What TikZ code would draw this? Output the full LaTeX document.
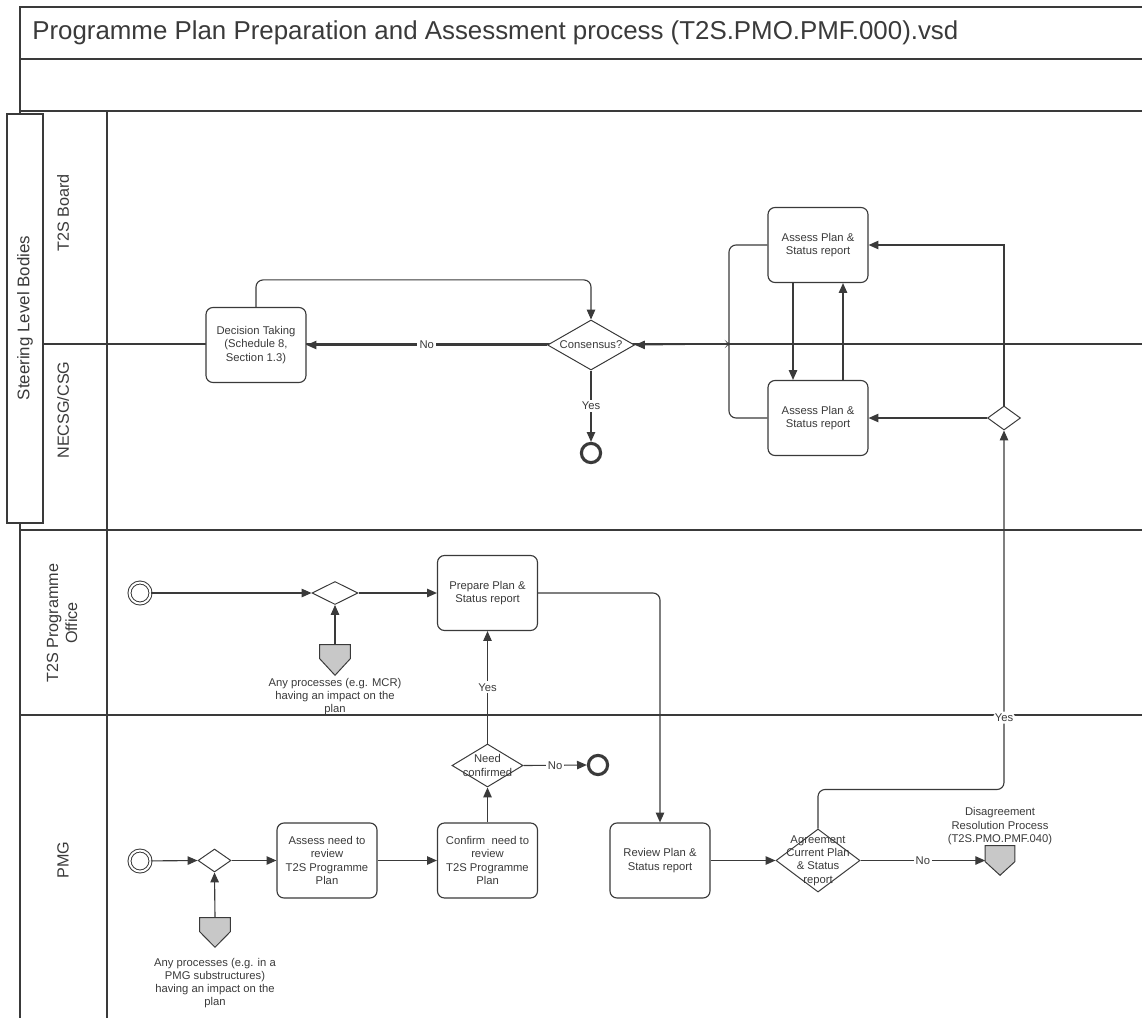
\documentclass[tikz,border=0pt]{standalone}
\usepackage{fontspec}
\setmainfont{Liberation Sans}
\usetikzlibrary{positioning}
\usetikzlibrary{arrows.meta}
\usetikzlibrary{calc}
\usetikzlibrary{shapes.geometric}

\definecolor{lineclr}{HTML}{3A3A3A}
\definecolor{offgray}{HTML}{C8C8C8}

\begin{document}
\begin{tikzpicture}[
        x=0.025cm, y=-0.025cm, color=lineclr,
        >={Triangle[length=7pt,width=6pt]},
        txt/.style = {font=\fontsize{8}{9.4}\selectfont, align=center, inner sep=0pt},
        task/.style = {draw, txt, rounded corners=5pt, minimum width=2.5cm, minimum height=1.875cm, line width=0.8pt, fill=white},
        gate/.style = {draw, diamond, inner sep=0pt, line width=0.7pt, fill=white},
        start/.style = {draw, circle, double, double distance=1.4pt, line width=0.7pt, minimum size=0.525cm, inner sep=0pt},
        finish/.style = {draw, circle, line width=2.2pt, minimum size=0.48cm, inner sep=0pt},
        offpage/.style = {minimum width=0.75cm, minimum height=0.75cm, inner sep=0pt},
        lbl/.style = {txt, fill=white, inner sep=1.5pt},
        flow/.style = {->, line width=0.8pt},
        lane/.style = {line width=1.2pt},
        lanetxt/.style = {rotate=90, font=\fontsize{11.5}{13.5}\selectfont, align=center},
        rc/.style = {rounded corners=5pt}
    ]
    \useasboundingbox (0,0) rectangle (1142,1018);
    % frame and lanes
    \draw[lane] (1142,7) -- (20,7) -- (20,1018);
    \draw[lane] (20,59) -- (1142,59);
    \draw[lane] (20,111) -- (1142,111);
    \draw[lane] (107,111) -- (107,1018);
    \draw[lane] (43,344) -- (1142,344);
    \draw[lane] (20,530) -- (1142,530);
    \draw[lane] (20,715) -- (1142,715);
    \node[anchor=west, inner sep=0pt, font=\fontsize{18.4}{20}\selectfont] (title) at (32,33) {Programme Plan Preparation and Assessment process (T2S.PMO.PMF.000).vsd};
    \draw[line width=0.9pt, fill=white] (7,114) rectangle (43,523);
    \node[lanetxt, font=\fontsize{12}{14}\selectfont] (slb) at (25,318) {Steering Level Bodies};
    \node[lanetxt] (board) at (63,213) {T2S Board};
    \node[lanetxt] (necsg) at (63,410) {NECSG/CSG};
    \node[lanetxt] (pmo) at (62,623) {T2S Programme\\Office};
    \node[lanetxt] (pmg) at (63,860) {PMG};

    % steering level bodies
    \node[task] (dec) at (256,345) {Decision Taking\\(Schedule 8,\\Section 1.3)};
    \node[gate, minimum width=2.175cm, minimum height=1.25cm] (cons) at (591,345) {};
    \node[txt] (constxt) at (cons) {Consensus?};
    \node[finish] (endA) at (591,453) {};
    \node[task] (asT) at (818,245) {Assess Plan \&\\Status report};
    \node[task] (asB) at (818,418) {Assess Plan \&\\Status report};
    \node[gate, minimum width=0.825cm, minimum height=0.6cm] (gwS) at (1004,418) {};
    \coordinate (mrg) at (723,344);

    \draw[flow, rc] (dec.north) -- ++(0,-27) -| (cons.north);
    \draw[flow] (cons.west) -- node[lbl] {No} (dec.east);
    \draw[flow] (cons.south) -- node[lbl] {Yes} (endA.north);
    \draw[line width=0.8pt, rc] (asT.west) -| ($(mrg)+(6,-5)$) to[out=270,in=0] (mrg) to[out=0,in=90] ($(mrg)+(6,5)$) |- (asB.west);
    \draw[flow] (mrg) -- (cons.east);
    \draw[flow] ($(asT.south)+(-25,0)$) -- ($(asB.north)+(-25,0)$);
    \draw[flow] ($(asB.north)+(25,0)$) -- ($(asT.south)+(25,0)$);
    \draw[flow] (gwS.west) -- (asB.east);
    \draw[flow] (gwS.north) |- (asT.east);

    % programme office
    \node[start] (sPO) at (140,593) {};
    \node[gate, minimum width=1.15cm, minimum height=0.575cm] (gwPO) at (335,593) {};
    \node[task] (prep) at (487.5,593) {Prepare Plan \&\\Status report};
    \node[offpage] (mcr) at (335,660) {};
    \filldraw[fill=offgray, line width=0.7pt] (mcr.north west) -- (mcr.north east) -- ($(mcr.north east)+(0,14)$) -- (mcr.south) -- ($(mcr.north west)+(0,14)$) -- cycle;
    \node[txt, below=2pt of mcr] (mcrtxt) {Any processes (e.g. MCR)\\having an impact on the\\plan};

    \draw[flow] (sPO) -- (gwPO.west);
    \draw[flow] (gwPO.east) -- (prep.west);
    \draw[flow] (mcr.north) -- (gwPO.south);

    % PMG
    \node[start] (sPMG) at (140,861) {};
    \node[gate, minimum width=0.825cm, minimum height=0.575cm] (gwPMG) at (214.5,860.5) {};
    \node[task] (assN) at (327,860.5) {Assess need to\\review\\T2S Programme\\Plan};
    \node[task] (confN) at (487.5,860.5) {Confirm\ \ need to\\review\\T2S Programme\\Plan};
    \node[gate, minimum width=1.775cm, minimum height=1.075cm] (need) at (487.5,765.5) {};
    \node[txt] (needtxt) at (need) {Need\\confirmed};
    \node[finish] (endB) at (598,765) {};
    \node[offpage, minimum height=0.725cm] (pmgp) at (215,932.5) {};
    \filldraw[fill=offgray, line width=0.7pt] (pmgp.north west) -- (pmgp.north east) -- ($(pmgp.north east)+(0,14)$) -- (pmgp.south) -- ($(pmgp.north west)+(0,14)$) -- cycle;
    \node[txt, below=7.5pt of pmgp] (pmgtxt) {Any processes (e.g. in a\\PMG substructures)\\having an impact on the\\plan};
    \node[task] (rev) at (660,860.5) {Review Plan \&\\Status report};
    \node[gate, minimum width=2.1cm, minimum height=1.575cm] (agr) at (818,860.5) {};
    \node[txt] (agrtxt) at (agr) {Agreement\\Current Plan\\\& Status\\report};
    \node[offpage, minimum width=0.725cm, minimum height=0.725cm] (dis) at (1000,860.5) {};
    \filldraw[fill=offgray, line width=0.7pt] (dis.north west) -- (dis.north east) -- ($(dis.north east)+(0,16)$) -- (dis.south) -- ($(dis.north west)+(0,16)$) -- cycle;
    \node[txt, above=0.5pt of dis] (distxt) {Disagreement\\Resolution Process\\(T2S.PMO.PMF.040)};

    \draw[flow, rc] (prep.east) -| (rev.north);
    \draw[flow] (sPMG) -- (gwPMG.west);
    \draw[flow] (gwPMG.east) -- (assN.west);
    \draw[flow] (pmgp.north) -- (gwPMG.south);
    \draw[flow] (assN.east) -- (confN.west);
    \draw[flow] (confN.north) -- (need.south);
    \draw[flow] (need.north) -- node[lbl] {Yes} (prep.south);
    \draw[flow] (need.east) -- node[lbl] {No} (endB.west);
    \draw[flow] (rev.east) -- (agr.west);
    \draw[flow] (agr.east) -- node[lbl] {No} (dis.west);
    \draw[flow, rc] (agr.north) -- ++(0,-39) -| node[lbl, pos=0.6] {Yes} (gwS.south);
\end{tikzpicture}
\end{document}
